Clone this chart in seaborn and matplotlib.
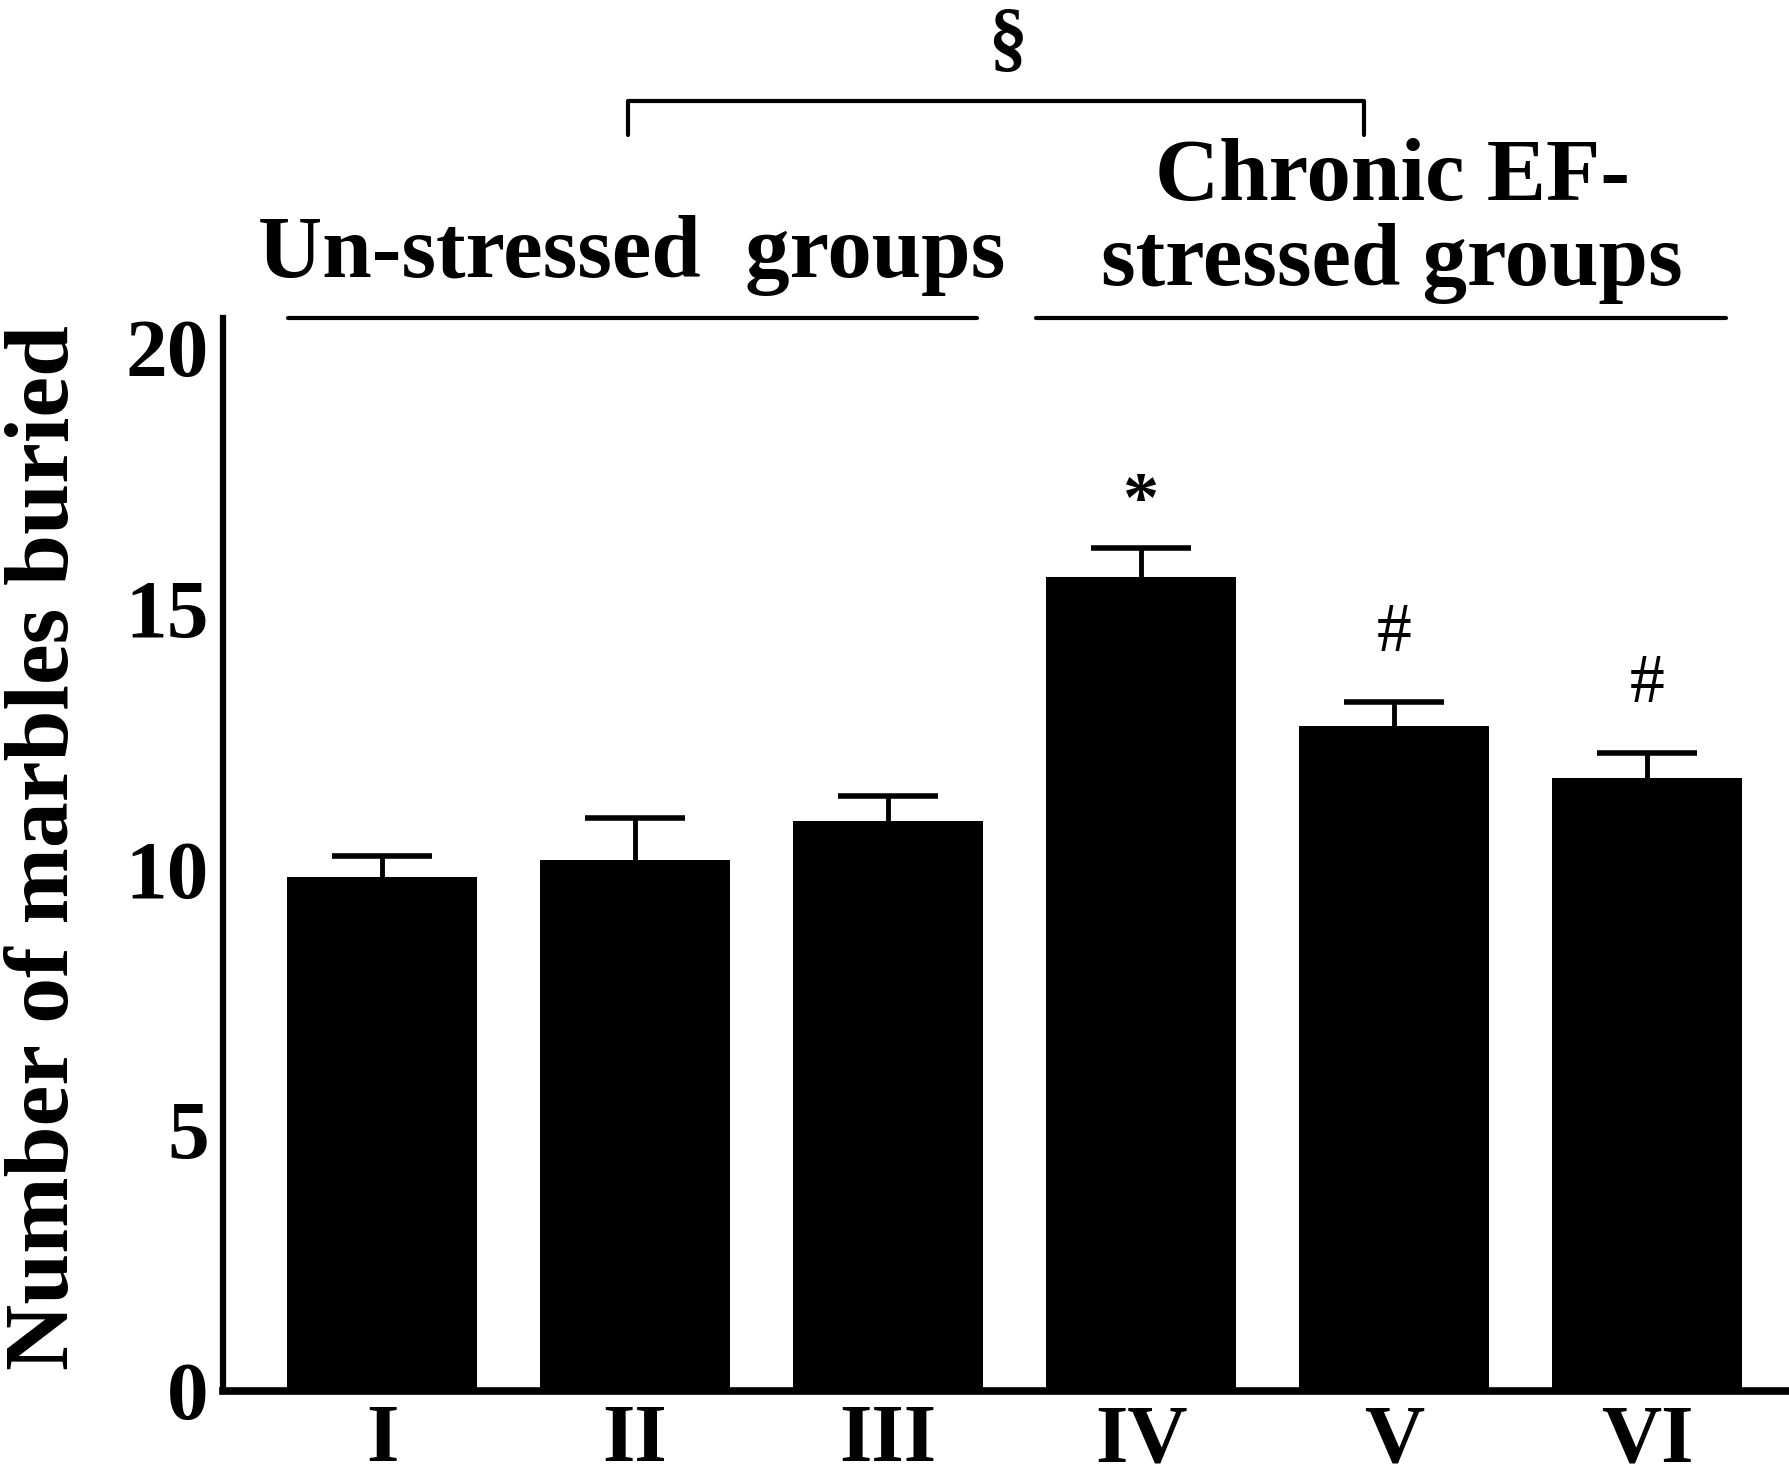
import numpy as np
import pandas as pd
import matplotlib
matplotlib.use("Agg")
import matplotlib.pyplot as plt
import seaborn as sns

# data
groups = ['I', 'II', 'III', 'IV', 'V', 'VI']
marbles_mean = [9.85, 10.18, 10.93, 15.61, 12.74, 11.74]
marbles_sem = [0.40, 0.80, 0.48, 0.55, 0.46, 0.48]
marks = ['', '', '', '*', '#', '#']

df = pd.DataFrame({'group': groups, 'mean': marbles_mean, 'sem': marbles_sem})

sns.set_style('white')
plt.rcParams['font.family'] = ['Liberation Serif', 'DejaVu Serif']
plt.rcParams['text.color'] = 'black'
plt.rcParams['xtick.color'] = 'black'
plt.rcParams['ytick.color'] = 'black'
plt.rcParams['axes.labelcolor'] = 'black'

fig = plt.figure(figsize=(17.9, 14.84), dpi=100)
ax = fig.add_axes([0.1244, 0.063, 0.8736, 0.723])

sns.barplot(data=df, x='group', y='mean', color='black', width=0.75,
            errorbar=None, saturation=1, edgecolor='black', linewidth=0, ax=ax)
eb = ax.errorbar(np.arange(len(groups)), df['mean'],
                 yerr=[np.zeros(len(groups)), df['sem']],
                 fmt='none', ecolor='black', elinewidth=3.5, capsize=36, capthick=4)
# only the upper cap is shown
eb[1][0].set_visible(False)

ax.set_xlim(-0.63, 5.55)
ax.set_ylim(0, 20.58)
ax.set_yticks([0, 5, 10, 15, 20])
ax.set_xlabel('')
ax.set_ylabel('')

for side in ['top', 'right']:
    ax.spines[side].set_visible(False)
ax.spines['left'].set_linewidth(4.5)
ax.spines['bottom'].set_linewidth(5.5)
ax.spines['left'].set_color('black')
ax.spines['bottom'].set_color('black')

ax.tick_params(axis='y', direction='in', length=9, width=4, pad=10,
               labelsize=60)
ax.tick_params(axis='x', length=0, pad=10, labelsize=60)
for lab in ax.get_xticklabels() + ax.get_yticklabels():
    lab.set_fontweight('bold')

# significance marks above error bars
for i, m in enumerate(marks):
    if m == '*':
        ax.text(i, marbles_mean[i] + marbles_sem[i] + 0.85, m, ha='center',
                va='center', fontsize=52, fontweight='bold')
    elif m == '#':
        ax.text(i, marbles_mean[i] + marbles_sem[i] + 1.3, m, ha='center',
                va='center', fontsize=50)

# group headers and lines
tr = ax.get_xaxis_transform()
ax.plot([-0.37, 2.35], [1.0, 1.0], color='black', lw=3, transform=tr, clip_on=False)
ax.plot([2.585, 5.31], [1.0, 1.0], color='black', lw=3, transform=tr, clip_on=False)

ax.text(0.985, 1.058, 'Un-stressed  groups', transform=tr, ha='center', va='center',
        fontsize=64, fontweight='bold')
ax.text(3.995, 1.130, 'Chronic EF-', transform=tr, ha='center', va='center',
        fontsize=64, fontweight='bold')
ax.text(3.99, 1.050, 'stressed groups', transform=tr, ha='center', va='center',
        fontsize=64, fontweight='bold')

# bracket between groups
ax.plot([0.973, 0.973, 3.88, 3.88], [1.170, 1.202, 1.202, 1.170], color='black',
        lw=3, transform=tr, clip_on=False)
ax.text(2.47, 1.255, '§', transform=tr, ha='center', va='center', fontsize=56,
        fontweight='bold')

fig.text(0.0255, 0.429, 'Number of marbles buried', rotation=90, ha='center',
         va='center', fontsize=66, fontweight='bold')

fig.savefig('out.png', dpi=100)
